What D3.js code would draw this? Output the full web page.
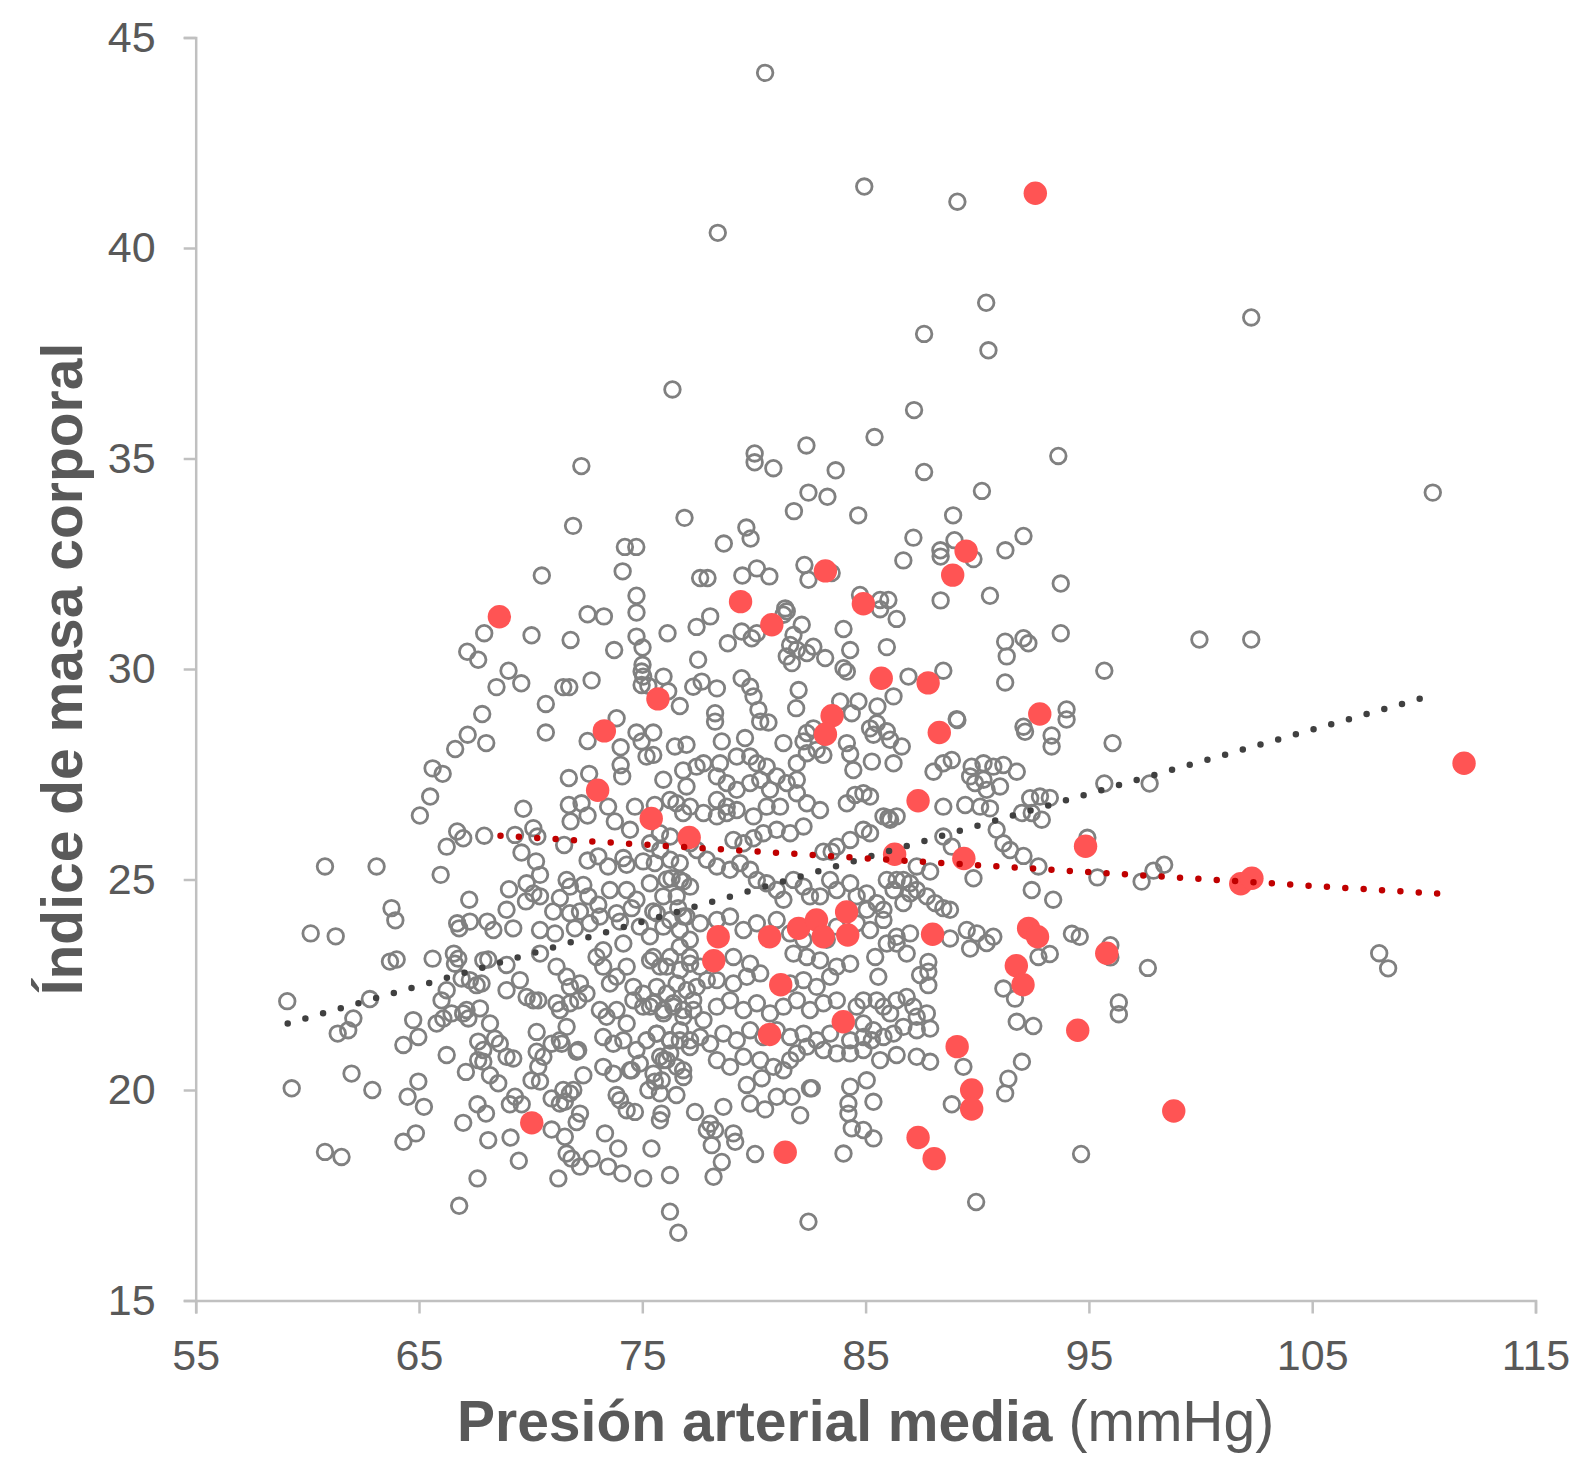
<!DOCTYPE html>
<html>
<head>
<meta charset="utf-8">
<script src="https://cdn.jsdelivr.net/npm/d3@7"></script>
<style>
  body { margin: 0; background: #fff; }
  svg { display: block; }
  .axis path, .axis line { stroke: #c0c0c0; stroke-width: 2.5; }
  .axis text { fill: #595959; font-size: 43px; font-family: "Liberation Sans", Arial, sans-serif; }
  .title { fill: #595959; font-size: 57px; font-family: "Liberation Sans", Arial, sans-serif; }
</style>
</head>
<body>
<div id="chart"></div>
<script>
// axis ticks
const xTicks = [55, 65, 75, 85, 95, 105, 115];
const yTicks = [15, 20, 25, 30, 35, 40, 45];

// gray series, split by area of the plot
const grayUpper = [[80.5,44.16],[84.94,41.46],[89.11,41.1],[78.38,40.36],[90.4,38.7],[102.27,38.35],[87.62,37.96],[90.5,37.57],[76.35,36.64],[87.17,36.15],[85.4,35.51],[93.63,35.06],[82.35,35.31],[80.03,35.12],[80.03,34.91],[80.87,34.77],[72.27,34.82],[83.66,34.72],[87.62,34.68],[110.4,34.19],[90.21,34.23],[82.44,34.19],[83.29,34.09],[81.79,33.75],[84.67,33.65],[88.92,33.65],[76.89,33.59],[71.9,33.4],[79.66,33.36],[79.85,33.1],[87.14,33.12],[92.07,33.16],[88.98,33.06],[74.22,32.9],[74.73,32.9],[78.65,32.98],[88.35,32.82],[91.26,32.82]];

const grayLeft = [[70.5,32.22],[74.12,32.32],[74.74,31.74],[74.74,31.34],[72.55,31.3],[73.28,31.25],[74.74,30.77],[75.01,30.51],[67.92,30.85],[67.16,30.41],[67.65,30.22],[70.04,30.8],[71.79,30.69],[76.13,30.85],[73.74,30.45],[77.43,31.0],[77.5,30.22],[75.01,30.1],[74.97,29.94],[75.04,29.82],[74.97,29.62],[75.27,29.6],[69.01,29.96],[69.58,29.66],[68.47,29.57],[71.46,29.57],[71.73,29.57],[72.73,29.73],[76.16,29.47],[76.68,29.12],[77.28,29.58],[70.68,29.17],[67.83,28.93],[70.68,28.49],[73.85,28.83],[67.18,28.44],[66.62,28.1],[68.01,28.24],[72.55,28.29],[74.03,28.14],[74.74,28.49],[75.49,28.49],[74.97,28.28],[75.19,27.92],[75.49,27.96],[76.46,28.16],[76.98,28.2],[65.61,27.64],[66.06,27.51],[65.5,26.97],[65.04,26.52],[71.71,27.41],[72.62,27.51],[74.03,27.72],[74.1,27.45],[75.94,27.37],[76.83,27.59],[77.43,27.68],[76.98,27.21],[69.67,26.68],[71.71,26.77],[72.28,26.81],[71.79,26.38],[72.55,26.52],[73.47,26.73],[74.67,26.73],[75.56,26.77],[76.24,26.89],[76.53,26.81],[73.77,26.38],[74.45,26.18],[75.79,26.1],[76.83,26.58],[66.71,26.14],[66.98,25.98],[67.92,26.04],[69.3,26.06],[70.12,26.22],[70.3,26.02],[66.24,25.78],[71.5,25.82],[69.59,25.64],[70.24,25.43],[72.55,25.45],[73.03,25.55],[73.47,25.31],[74.15,25.51],[74.3,25.35],[75.04,25.43],[75.56,25.39],[76.09,25.0],[76.68,25.39],[75.34,24.91],[76.31,25.03],[76.83,24.95],[60.79,25.31],[63.1,25.31],[65.97,25.11],[70.42,25.11],[69.82,24.91],[71.61,24.99],[71.76,24.83],[72.36,24.87],[73.55,24.75],[74.3,24.75],[69.03,24.77],[67.25,24.52],[70.12,24.67],[70.42,24.6],[71.31,24.56],[72.58,24.6],[73.03,24.4],[74.74,24.52],[75.94,24.6],[68.92,24.28],[69.79,24.48],[71.01,24.24],[71.76,24.2],[72.21,24.24],[73.1,24.12],[73.85,24.2],[74.52,24.32],[75.49,24.24],[76.61,24.32],[76.98,24.12],[63.77,24.32],[63.94,24.03],[60.15,23.72],[61.27,23.65],[66.71,23.96],[66.8,23.84],[67.28,24.0],[68.06,24.0],[68.33,23.8],[69.22,23.84],[70.42,23.8],[71.09,23.72],[71.98,23.84],[72.65,23.96],[74.0,24.0],[74.89,23.88],[75.94,23.88],[75.34,23.65],[76.68,23.8],[77.13,23.57]];

const grayLow = [[63.7,23.05],[64.0,23.1],[65.61,23.12],[66.56,23.24],[66.76,23.12],[66.61,23.0],[67.88,23.08],[68.1,23.1],[68.92,22.97],[59.1,22.11],[62.8,22.16],[61.36,21.34],[61.83,21.42],[62.06,21.7],[64.74,21.66],[64.3,21.07],[64.97,21.26],[66.24,20.83],[59.3,20.04],[61.98,20.39],[62.91,20.0],[64.97,20.2],[64.49,19.84],[65.22,19.6],[60.79,18.53],[61.53,18.41],[64.3,18.77],[64.86,18.97],[66.98,19.22],[67.62,19.66],[68.0,19.44],[67.1,20.43],[68.1,18.81],[69.1,18.87],[67.62,17.9],[66.8,17.25],[69.47,18.32],[71.24,17.9],[71.53,18.89],[70.94,19.06],[71.61,18.49],[71.83,18.37],[72.21,18.18],[72.73,18.37],[73.33,18.97],[73.47,18.18],[73.92,18.61],[74.1,18.02],[75.04,17.9],[75.41,18.61],[76.24,17.98],[76.24,17.11],[76.61,16.61],[70.27,21.38],[71.39,21.1],[72.06,20.91],[71.53,19.72],[71.76,19.92],[71.91,20.0],[72.21,19.44],[72.06,19.24],[69.3,19.84],[69.07,19.66],[69.6,19.66],[68.18,20.35],[68.55,20.16],[67.65,20.71],[67.88,20.95],[70.04,20.23],[70.42,20.2],[70.94,19.8],[71.31,19.68],[71.46,20.0],[72.36,20.35],[74.67,19.48],[75.79,19.28],[75.86,19.44],[75.56,20.2],[74.3,19.52],[74.0,19.76],[73.85,19.88],[74.52,20.47],[75.27,20.0],[75.79,19.92],[76.53,19.88],[77.36,19.48],[65.79,21.58],[66.09,21.7],[66.46,21.82],[66.98,21.82],[67.21,21.7],[67.13,21.9],[67.73,21.94],[68.18,21.58],[68.4,21.22],[68.62,21.1],[68.92,20.79],[69.22,20.75],[67.65,21.15],[67.88,20.67],[69.52,22.61],[69.82,22.21],[70.12,22.13],[70.34,22.13],[68.92,22.37],[67.58,22.49],[67.8,22.53],[67.28,22.61],[66.91,22.65],[66.24,22.37],[66.01,22.13],[70.27,20.91],[70.57,20.79],[70.34,20.55],[70.94,21.1],[71.31,21.18],[71.61,21.5],[72.13,20.95],[71.16,22.06],[71.31,21.9],[71.76,22.06],[72.13,22.13],[71.16,22.93],[71.61,22.69],[71.76,22.45],[72.21,22.53],[72.5,22.29],[72.95,23.16],[73.25,22.93],[73.55,22.53],[73.85,22.69],[74.3,22.93],[74.6,22.45],[75.04,22.29],[73.1,21.9],[73.4,21.74],[73.85,21.9],[74.3,21.58],[74.6,22.13],[75.04,21.98],[75.49,22.06],[75.94,21.9],[76.39,22.06],[76.83,21.9],[77.28,22.13],[73.25,21.26],[73.7,21.1],[74.15,21.18],[74.74,20.95],[75.19,21.18],[75.64,21.34],[76.24,21.18],[76.68,21.18],[77.13,21.02],[73.25,20.55],[73.7,20.39],[74.45,20.47],[74.89,20.63],[76.09,20.71],[76.83,20.47],[75.49,23.16],[76.09,22.93],[76.68,23.4],[77.13,23.16],[70.42,23.24],[73.25,23.32],[74.15,23.48]];

const grayCore = [[86.69,32.58],[88.36,32.67],[89.83,32.61],[77.59,32.16],[77.92,32.16],[79.48,32.22],[80.13,32.39],[80.69,32.2],[82.26,32.47],[82.44,32.12],[83.48,32.28],[90.57,31.74],[88.36,31.63],[86.39,31.19],[85.65,31.64],[86.02,31.64],[85.65,31.42],[84.75,31.76],[78.04,31.25],[78.83,30.61],[79.45,30.89],[79.9,30.73],[80.13,30.85],[81.4,31.44],[81.32,31.29],[81.47,31.37],[81.77,30.81],[82.14,31.05],[81.62,30.57],[81.47,30.3],[81.7,30.14],[81.92,30.46],[82.37,30.38],[82.66,30.53],[83.19,30.26],[84.01,30.95],[84.31,30.45],[84.01,30.02],[84.16,29.94],[85.95,30.52],[77.66,29.7],[78.34,29.54],[78.26,28.95],[78.26,28.75],[78.56,28.28],[79.45,29.78],[79.83,29.58],[79.98,29.35],[80.2,29.03],[80.28,28.75],[80.65,28.73],[79.6,28.36],[82.0,29.5],[81.89,29.07],[83.86,29.23],[84.38,28.95],[84.68,29.23],[85.53,29.11],[82.37,28.48],[82.22,28.28],[82.66,28.59],[86.25,29.35],[86.92,29.82],[88.48,29.96],[89.11,28.79],[85.2,28.59],[85.5,28.71],[85.95,28.52],[86.1,28.32],[86.62,28.16],[85.35,28.44],[84.16,28.24],[84.31,27.98],[84.45,27.6],[85.28,27.8],[86.25,27.76],[91.25,30.65],[92.07,30.73],[92.29,30.61],[91.32,30.3],[91.25,29.68],[92.07,28.63],[92.14,28.51],[89.08,28.81],[88.04,27.56],[88.48,27.76],[88.86,27.84],[89.75,27.68],[90.28,27.76],[90.72,27.68],[91.17,27.72],[91.77,27.56],[89.68,27.45],[89.9,27.29],[90.28,27.37],[90.42,27.13],[91.02,27.21],[89.46,26.77],[90.13,26.73],[90.57,26.69],[88.48,26.73],[92.37,26.93],[92.81,26.97],[92.44,26.58],[92.89,26.42],[92.0,26.58],[90.87,26.18],[91.17,25.86],[91.47,25.7],[92.07,25.56],[92.44,24.75],[92.74,25.31],[89.83,25.03],[86.1,26.42],[86.39,26.5],[88.48,26.02],[88.86,25.78],[87.89,25.19],[87.29,25.31],[86.39,24.99],[86.69,24.99],[86.99,24.91],[87.29,24.75],[87.74,24.6],[88.11,24.44],[88.48,24.32],[88.78,24.28],[84.16,26.81],[84.53,27.01],[84.9,27.05],[85.2,26.97],[85.8,26.5],[86.02,26.46],[84.9,26.18],[85.2,26.1],[84.31,25.94],[83.71,25.78],[83.11,25.66],[83.48,25.66],[82.22,26.26],[81.62,26.1],[81.02,26.18],[80.42,26.1],[79.98,25.98],[79.53,25.86],[79.08,25.94],[82.96,26.65],[82.37,26.81],[81.92,27.05],[81.17,26.73],[80.57,26.73],[79.98,26.5],[79.23,26.65],[78.78,26.58],[78.34,26.5],[77.74,26.58],[77.14,26.73],[79.83,27.29],[80.28,27.37],[80.72,27.13],[81.47,27.29],[81.92,27.37],[81.02,27.45],[79.23,27.13],[78.78,27.29],[78.34,27.45],[79.83,27.92],[80.13,27.76],[80.57,27.68],[81.92,27.76],[82.37,28.0],[82.81,28.08],[83.11,27.96],[81.32,28.24],[78.34,26.89],[78.78,26.73],[76.25,25.47],[76.69,24.99],[77.14,24.83],[76.54,24.6],[77.44,25.7],[77.89,25.47],[78.34,25.31],[78.93,25.23],[79.38,25.39],[79.83,25.23],[80.13,24.99],[80.57,24.91],[81.02,24.75],[81.32,24.52],[81.77,24.99],[82.22,24.83],[82.51,24.6],[82.96,24.6],[83.41,24.99],[83.71,24.75],[84.31,24.91],[84.6,24.6],[85.05,24.67],[85.5,24.44],[85.95,24.99],[86.25,24.75],[86.99,24.67],[86.69,24.44],[85.8,24.28],[85.05,24.28],[89.53,23.8],[89.98,23.72],[90.42,23.49],[90.72,23.64],[75.95,29.82],[78.48,27.76],[79.23,27.92],[77.74,27.76],[77.14,25.86],[76.25,26.02],[75.8,25.7],[75.35,25.86],[75.65,24.2],[76.25,24.04],[76.84,24.12],[77.59,23.96],[78.34,24.04],[78.93,24.12],[79.53,23.8],[80.13,23.96],[81.02,24.04],[81.62,23.72],[82.22,23.57],[83.26,23.57],[83.71,23.88],[84.6,23.96],[85.2,23.8],[85.8,24.04],[86.39,23.64],[86.99,23.72]];

const grayCoreLow = [[75.35,23.08],[75.8,22.93],[76.25,23.16],[76.69,22.85],[77.14,23.0],[77.59,22.93],[75.65,22.45],[76.1,22.29],[76.54,22.53],[76.99,22.37],[77.44,22.45],[77.89,22.61],[75.35,21.98],[75.95,21.82],[76.39,21.98],[76.84,21.74],[77.29,21.9],[77.74,21.66],[75.65,21.34],[76.25,21.18],[76.69,21.42],[77.14,21.18],[77.59,21.26],[78.04,21.1],[75.95,20.71],[76.54,20.55],[76.84,20.31],[76.25,20.87],[75.8,20.79],[75.87,20.23],[75.5,20.39],[78.19,17.94],[78.56,18.29],[78.11,18.69],[78.26,19.05],[78.63,19.6],[79.08,18.97],[79.16,18.77],[80.05,18.48],[79.83,19.68],[80.5,19.54],[81.02,19.84],[81.69,19.84],[82.07,19.4],[82.59,20.04],[79.68,20.12],[80.35,20.28],[78.34,20.71],[78.93,20.55],[79.53,20.79],[80.28,20.71],[80.87,20.55],[81.32,20.47],[81.62,20.71],[81.92,20.87],[78.63,21.34],[79.23,21.18],[79.83,21.42],[80.42,21.26],[81.02,21.42],[81.62,21.26],[82.22,21.34],[82.81,21.18],[83.41,21.34],[78.34,21.98],[78.93,22.13],[79.53,21.9],[80.13,22.06],[80.72,21.82],[81.32,21.98],[81.92,22.13],[82.51,21.9],[83.11,22.06],[83.71,22.13],[78.34,22.61],[79.08,22.53],[79.68,22.69],[80.28,22.77],[81.62,22.53],[82.22,22.61],[82.81,22.45],[83.41,22.69],[83.71,22.93],[84.31,23.0],[79.08,23.16],[79.83,23.0],[81.77,23.24],[82.37,23.16],[82.96,23.08],[82.37,21.03],[83.11,20.95],[83.71,20.87],[84.31,20.87],[84.9,20.95],[84.31,21.18],[84.6,21.98],[84.9,22.13],[85.5,22.13],[85.8,21.98],[86.1,21.82],[86.39,22.13],[86.84,22.21],[87.14,21.98],[87.29,21.74],[87.74,21.82],[84.9,21.58],[85.35,21.42],[85.8,21.26],[86.25,21.34],[86.69,21.5],[87.29,21.42],[87.89,21.46],[84.9,21.26],[85.28,21.18],[85.65,20.71],[86.39,20.83],[87.29,20.79],[87.89,20.67],[85.05,20.23],[85.35,19.72],[84.23,19.68],[84.23,19.44],[84.38,19.09],[84.9,19.05],[85.35,18.85],[84.01,18.49],[82.44,16.87],[84.31,20.08],[82.51,20.04],[77.89,19.05],[78.04,19.2],[85.43,23.16],[85.57,22.69],[86.84,23.24],[87.81,23.04],[87.81,22.81],[87.81,22.49],[87.44,22.73],[85.95,23.48],[86.39,23.48],[89.68,23.36],[88.78,23.6],[92.74,23.16],[91.17,22.41],[91.69,22.17],[91.77,21.62],[92.51,21.52],[92.0,20.67],[91.39,20.27],[91.25,19.92],[89.38,20.55],[88.86,19.66],[89.95,17.34]];

const grayRight = [[93.74,32.03],[93.74,30.85],[99.95,30.7],[102.27,30.7],[95.69,29.96],[94.0,29.04],[94.0,28.8],[93.33,28.42],[93.33,28.16],[96.06,28.24],[95.69,27.28],[97.72,27.28],[93.25,26.94],[94.93,25.99],[95.38,25.05],[97.36,24.95],[97.89,25.21],[98.37,25.35],[93.4,24.52],[94.24,23.71],[94.59,23.64],[95.96,23.44],[95.96,23.15],[97.64,22.9],[93.25,23.23],[96.34,22.08],[96.34,21.8],[108.0,23.25],[108.4,22.89],[94.65,18.48]];

// red series
const redPoints = [[92.6,41.3],[68.6,31.24],[79.4,31.6],[80.8,31.05],[83.2,32.33],[84.9,31.55],[88.9,32.23],[89.5,32.8],[75.7,29.29],[73.3,28.53],[85.7,29.78],[87.8,29.67],[83.5,28.89],[83.2,28.45],[88.3,28.49],[92.8,28.93],[73.0,27.12],[75.4,26.45],[77.1,26.0],[87.35,26.87],[86.3,25.6],[89.4,25.5],[94.85,25.79],[101.8,24.9],[102.3,25.03],[111.8,27.76],[78.4,23.64],[78.2,23.07],[80.7,23.64],[82.0,23.84],[82.8,24.04],[83.1,23.64],[84.15,24.23],[84.2,23.68],[88.0,23.7],[92.3,23.84],[92.7,23.64],[81.2,22.5],[91.75,22.95],[92.05,22.5],[95.8,23.25],[84.0,21.62],[80.7,21.32],[94.5,21.42],[89.1,21.03],[89.75,20.0],[89.75,19.55],[87.35,18.87],[88.07,18.37],[81.4,18.52],[98.8,19.5],[70.05,19.22]];

// trend line ends
const grayTrend = [[59.12, 21.58], [110.4, 29.38]];
const redTrend = [[68.65, 26.04], [111.07, 24.65]];

const width = 1583, height = 1457;

const svg = d3.select("#chart").append("svg")
    .attr("width", width)
    .attr("height", height);

const x = d3.scaleLinear().domain([55, 115]).range([195.7, 1535.5]);
const y = d3.scaleLinear().domain([15, 45]).range([1300.5, 37.5]);

// axes
svg.append("g")
    .attr("class", "axis")
    .attr("transform", "translate(0," + y(15) + ")")
    .call(d3.axisBottom(x).tickValues(xTicks).tickSize(13).tickSizeOuter(13).tickPadding(26));

svg.append("g")
    .attr("class", "axis")
    .attr("transform", "translate(" + x(55) + ",0)")
    .call(d3.axisLeft(y).tickValues(yTicks).tickSize(12).tickSizeOuter(12).tickPadding(28));

// gray points
const gray = [].concat(grayUpper, grayLeft, grayLow, grayCore, grayCoreLow, grayRight);
svg.append("g").selectAll("circle")
    .data(gray)
  .enter().append("circle")
    .attr("cx", d => x(d[0]))
    .attr("cy", d => y(d[1]))
    .attr("r", 7.8)
    .attr("fill", "none")
    .attr("stroke", "#808080")
    .attr("stroke-width", 2.8);

// red points
svg.append("g").selectAll("circle")
    .data(redPoints)
  .enter().append("circle")
    .attr("cx", d => x(d[0]))
    .attr("cy", d => y(d[1]))
    .attr("r", 11.7)
    .attr("fill", "#ff5454");

// dotted trend lines
const line = d3.line().x(d => x(d[0])).y(d => y(d[1]));

svg.append("path")
    .attr("d", line(grayTrend))
    .attr("fill", "none")
    .attr("stroke", "#404040")
    .attr("stroke-width", 6.5)
    .attr("stroke-linecap", "round")
    .attr("stroke-dasharray", "0 18.4");

svg.append("path")
    .attr("d", line(redTrend))
    .attr("fill", "none")
    .attr("stroke", "#c00000")
    .attr("stroke-width", 6.5)
    .attr("stroke-linecap", "round")
    .attr("stroke-dasharray", "0 18.4");

// axis titles
const xTitle = svg.append("text")
    .attr("class", "title")
    .attr("x", (x(55) + x(115)) / 2)
    .attr("y", 1441)
    .attr("text-anchor", "middle");
xTitle.append("tspan").attr("font-weight", "bold").text("Presión arterial media");
xTitle.append("tspan").text(" (mmHg)");

svg.append("text")
    .attr("class", "title")
    .attr("transform", "translate(82," + (y(15) + y(45)) / 2 + ") rotate(-90)")
    .attr("text-anchor", "middle")
    .attr("font-weight", "bold")
    .text("Índice de masa corporal");
</script>
</body>
</html>
